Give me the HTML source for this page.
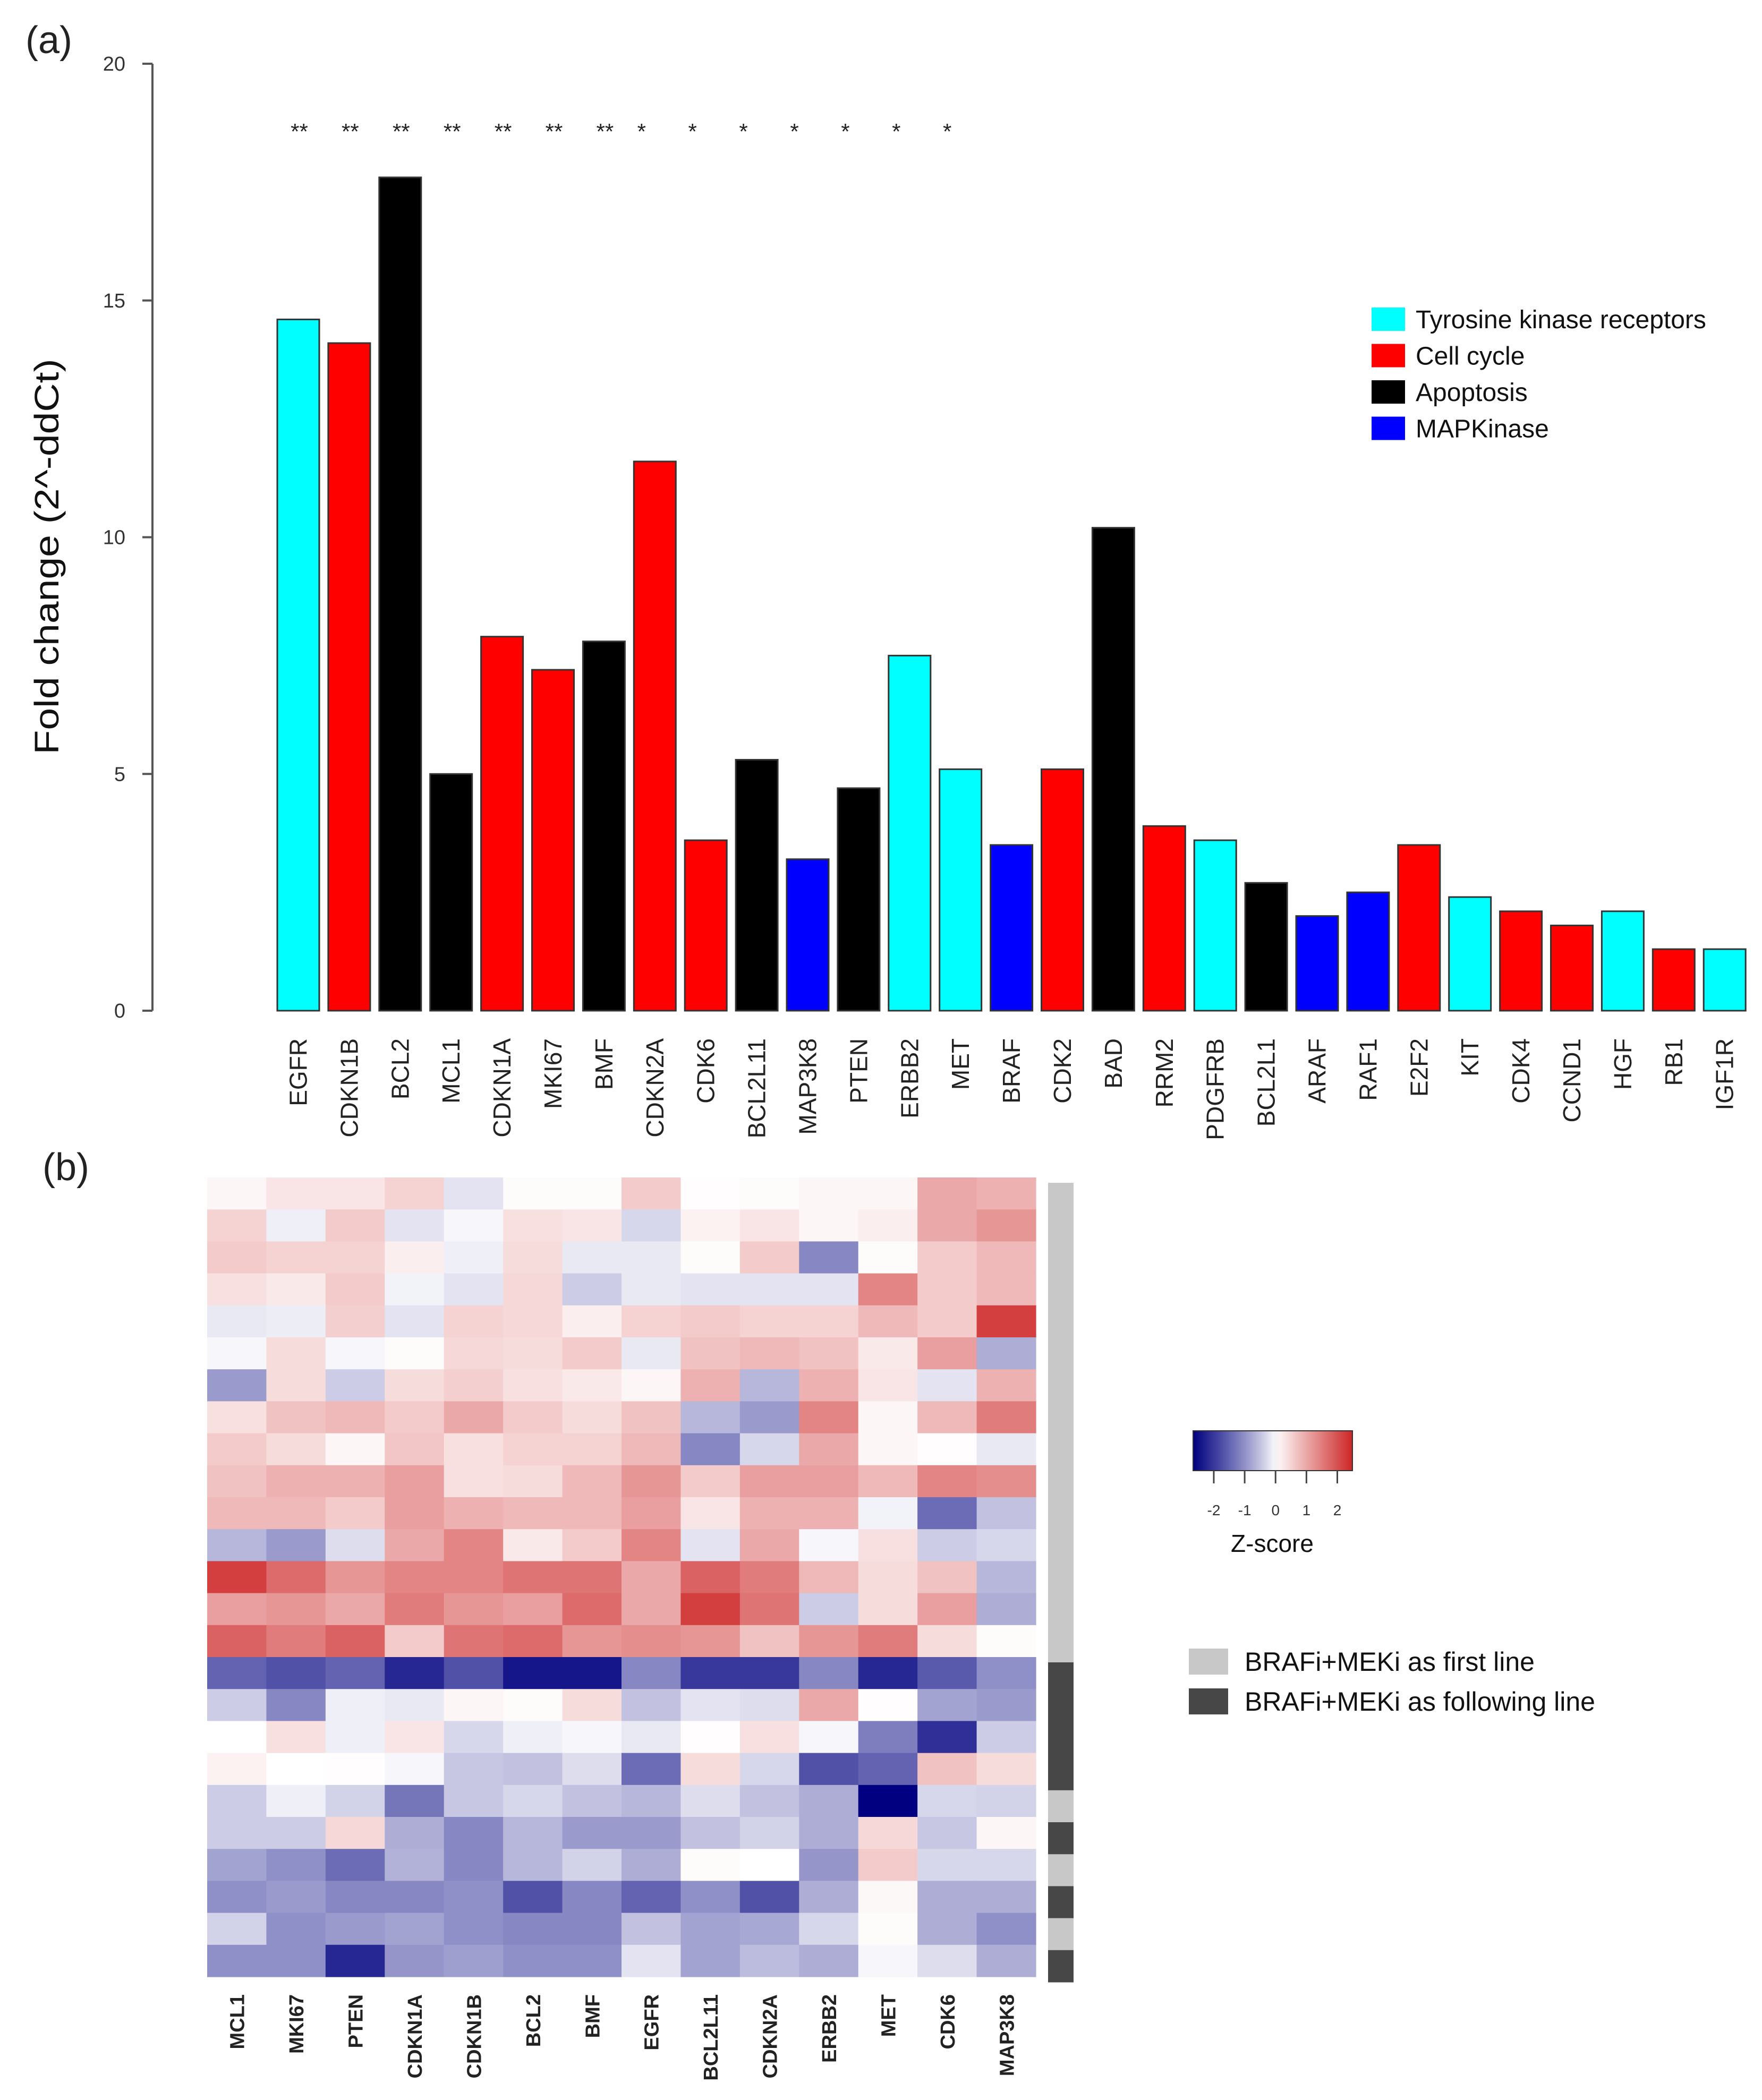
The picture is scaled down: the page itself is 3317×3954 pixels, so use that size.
<!DOCTYPE html>
<html><head><meta charset="utf-8"><style>
html,body{margin:0;padding:0;background:#fff;}
svg{display:block;}
text{font-family:"Liberation Sans",sans-serif;}
</style></head><body>
<svg id="fig" width="3317" height="3954" viewBox="0 0 3317 3954" xmlns="http://www.w3.org/2000/svg">
<rect x="0" y="0" width="3317" height="3954" fill="#fff"/>
<g id="panelA"></g>
<g id="panelB"></g>
</svg>
<script>
// ---------- Panel (a) data ----------
const genes = ["EGFR","CDKN1B","BCL2","MCL1","CDKN1A","MKI67","BMF","CDKN2A","CDK6","BCL2L11","MAP3K8","PTEN","ERBB2","MET","BRAF","CDK2","BAD","RRM2","PDGFRB","BCL2L1","ARAF","RAF1","E2F2","KIT","CDK4","CCND1","HGF","RB1","IGF1R"];
const foldChange = [14.6,14.1,17.6,5.0,7.9,7.2,7.8,11.6,3.6,5.3,3.2,4.7,7.5,5.1,3.5,5.1,10.2,3.9,3.6,2.7,2.0,2.5,3.5,2.4,2.1,1.8,2.1,1.3,1.3];
const category = ["t","c","a","a","c","c","a","c","c","a","m","a","t","t","m","c","a","c","t","a","m","m","c","t","c","c","t","c","t"];
const stars = ["**","**","**","**","**","**","**","*","*","*","*","*","*","*"];
const yTicks = [0,5,10,15,20];
const catNames = ["Tyrosine kinase receptors","Cell cycle","Apoptosis","MAPKinase"];
const catKeys = ["t","c","a","m"];
const catColors = {t:"#00ffff",c:"#ff0000",a:"#000000",m:"#0000ff"};

// ---------- Panel (b) data ----------
const hmGenes = ["MCL1","MKI67","PTEN","CDKN1A","CDKN1B","BCL2","BMF","EGFR","BCL2L11","CDKN2A","ERBB2","MET","CDK6","MAP3K8"];
const hmRows = [
[0.1,0.3,0.3,0.5,-0.2,0.05,0.05,0.6,0.02,0.05,0.1,0.1,1.0,0.9],
[0.5,-0.1,0.6,-0.2,-0.05,0.35,0.3,-0.3,0.15,0.3,0.1,0.2,1.0,1.2],
[0.6,0.5,0.5,0.2,-0.1,0.4,-0.15,-0.15,0.05,0.6,-1.1,0.05,0.6,0.8],
[0.35,0.25,0.6,-0.08,-0.2,0.45,-0.4,-0.15,-0.2,-0.2,-0.2,1.4,0.6,0.8],
[-0.15,-0.12,0.55,-0.2,0.5,0.45,0.2,0.5,0.6,0.5,0.5,0.8,0.6,2.2],
[-0.05,0.4,-0.05,0.05,0.45,0.4,0.6,-0.15,0.7,0.8,0.7,0.25,1.1,-0.7],
[-0.9,0.4,-0.4,0.4,0.55,0.35,0.25,0.1,0.9,-0.6,0.9,0.3,-0.2,0.9],
[0.35,0.7,0.8,0.6,1.0,0.6,0.4,0.7,-0.6,-0.9,1.4,0.1,0.8,1.5],
[0.6,0.4,0.1,0.65,0.35,0.5,0.5,0.8,-1.1,-0.3,1.0,0.1,0.02,-0.15],
[0.7,0.9,0.9,1.1,0.35,0.4,0.8,1.2,0.6,1.1,1.1,0.8,1.4,1.3],
[0.8,0.8,0.6,1.1,0.9,0.8,0.8,1.1,0.3,0.9,0.9,-0.08,-1.4,-0.5],
[-0.6,-0.9,-0.25,1.0,1.4,0.25,0.6,1.4,-0.2,1.0,-0.05,0.35,-0.4,-0.3],
[2.2,1.7,1.2,1.4,1.4,1.6,1.6,1.0,1.8,1.5,0.8,0.4,0.7,-0.6],
[1.1,1.2,1.0,1.5,1.2,1.1,1.7,1.0,2.2,1.6,-0.4,0.4,1.1,-0.7],
[1.8,1.5,1.8,0.6,1.6,1.7,1.2,1.3,1.2,0.7,1.2,1.5,0.4,0.05],
[-1.5,-1.7,-1.5,-2.2,-1.7,-2.4,-2.4,-1.1,-2.0,-2.0,-1.1,-2.2,-1.6,-1.0],
[-0.4,-1.1,-0.1,-0.15,0.1,0.05,0.4,-0.5,-0.2,-0.25,1.0,0.02,-0.8,-0.9],
[0.0,0.35,-0.1,0.3,-0.3,-0.1,-0.05,-0.15,0.02,0.35,-0.05,-1.2,-2.1,-0.4],
[0.15,0.0,0.02,-0.05,-0.45,-0.5,-0.25,-1.4,0.4,-0.3,-1.7,-1.5,0.7,0.4],
[-0.4,-0.1,-0.35,-1.3,-0.45,-0.3,-0.5,-0.6,-0.25,-0.5,-0.7,-2.7,-0.3,-0.35],
[-0.4,-0.4,0.45,-0.7,-1.1,-0.6,-0.9,-0.9,-0.5,-0.35,-0.7,0.45,-0.45,0.1],
[-0.8,-1.0,-1.4,-0.65,-1.1,-0.6,-0.35,-0.7,0.05,0.0,-0.95,0.6,-0.3,-0.3],
[-1.0,-0.9,-1.1,-1.1,-1.0,-1.7,-1.1,-1.5,-1.0,-1.7,-0.7,0.08,-0.7,-0.7],
[-0.35,-1.0,-0.9,-0.8,-1.0,-1.1,-1.1,-0.5,-0.8,-0.75,-0.3,0.05,-0.7,-1.0],
[-1.0,-1.0,-2.2,-0.95,-0.85,-1.0,-1.0,-0.2,-0.8,-0.55,-0.7,-0.05,-0.25,-0.7]
];
const rowGroup = [1,1,1,1,1,1,1,1,1,1,1,1,1,1,1,2,2,2,2,1,2,1,2,1,2];
const zTicks = [-2,-1,0,1,2];
const groupNames = ["BRAFi+MEKi as first line","BRAFi+MEKi as following line"];
const groupColors = {1:"#c8c8c8",2:"#474747"};

const NS="http://www.w3.org/2000/svg";
function mk(tag, attrs, parent, txt){
  const e=document.createElementNS(NS,tag);
  for(const k in attrs) e.setAttribute(k, attrs[k]);
  if(txt!==undefined) e.textContent=txt;
  parent.appendChild(e); return e;
}

// ---------- Panel (a) ----------
const A=document.getElementById('panelA');
const y0px=1903, y20px=120;
function yScale(v){return y0px-(v/20)*(y0px-y20px);}
const barStart=522, pitch=95.9, barW=79;
function xLeft(i){return barStart+i*pitch;}
function xCenter(i){return xLeft(i)+barW/2;}

let t=mk('text',{x:48,y:100,'font-size':72,fill:'#222'},A,'(a)');



let ax=mk('line',{x1:287,y1:y20px,x2:287,y2:y0px,stroke:'#555','stroke-width':4},A);


yTicks.forEach(v=>{
  const y=yScale(v);
  const tk=mk('line',{x1:268,y1:y,x2:287,y2:y,stroke:'#555','stroke-width':4},A);
  
  
  const tl=mk('text',{x:236,y:y+13,'font-size':38,'text-anchor':'end',fill:'#333'},A,String(v));
  
  
});
let yt=mk('text',{x:0,y:0,'font-size':64,'text-anchor':'middle',fill:'#111',transform:'translate(110,1048) rotate(-90)',textLength:745,lengthAdjust:'spacingAndGlyphs'},A,'Fold change (2^-ddCt)');



genes.forEach((g,i)=>{
  const v=foldChange[i];
  const b=mk('rect',{x:xLeft(i),y:yScale(v),width:barW,height:y0px-yScale(v),fill:catColors[category[i]],stroke:'#333','stroke-width':3},A);
  
  
  const lb=mk('text',{x:0,y:0,'font-size':46,'text-anchor':'end',fill:'#222',transform:`translate(${xCenter(i)+16},1955) rotate(-90)`},A,g);
  
  
});
stars.forEach((s,i)=>{
  const off = s.length===1 ? -25 : 2;
  const st=mk('text',{x:xCenter(i)+off,y:262,'font-size':42,'text-anchor':'middle',fill:'#222'},A,s);
  
  
});
catKeys.forEach((k,i)=>{
  const cy=601+i*68.5;
  const sw=mk('rect',{x:2582,y:cy-22,width:63,height:44,fill:catColors[k]},A);
  
  
  const lt=mk('text',{x:2665,y:cy+17,'font-size':48,fill:'#111'},A,catNames[i]);
  
  
});

// ---------- Panel (b) ----------
const B=document.getElementById('panelB');
let tb=mk('text',{x:80,y:2222,'font-size':72,fill:'#222'},B,'(b)');



const hmX0=390, hmX1=1950, hmY0=2217, rowH=60.2;
const colW=(hmX1-hmX0)/hmGenes.length;
const zMin=-2.67, zMax=2.49;
function zColor(v){
  let r,g,b;
  if(v<0){const t=Math.min(1,Math.pow(-v/(-zMin),0.85)); r=255*(1-t); g=255*(1-t); b=255*(1-t)+128*t;}
  else{const t=Math.min(1,v/zMax); r=255*(1-t)+205*t; g=255*(1-t)+38*t; b=255*(1-t)+38*t;}
  return `rgb(${Math.round(r)},${Math.round(g)},${Math.round(b)})`;
}
hmRows.forEach((row,ri)=>{
  row.forEach((v,ci)=>{
    const c=mk('rect',{x:hmX0+ci*colW,y:hmY0+ri*rowH,width:colW+0.6,height:rowH+0.6,fill:zColor(v)},B);
    
    
  });
  const a=mk('rect',{x:1973,y:hmY0+10+ri*rowH,width:48,height:rowH+0.5,fill:groupColors[rowGroup[ri]]},B);
  
  
});
hmGenes.forEach((g,ci)=>{
  const lb=mk('text',{x:0,y:0,'font-size':38,'font-weight':'bold','text-anchor':'end',fill:'#222',transform:`translate(${hmX0+(ci+0.5)*colW+14},3755) rotate(-90)`},B,g);
  
  
});

// colour key
const defs=mk('defs',{},B);
const grad=mk('linearGradient',{id:'zgrad',x1:'0',x2:'1',y1:'0',y2:'0'},defs);
for(let k=0;k<=20;k++){
  const v=zMin+(zMax-zMin)*k/20;
  mk('stop',{offset:(k/20).toFixed(3),'stop-color':zColor(v)},grad);
}
const kx0=2246, kx1=2546;
function zx(v){return kx0+(v-zMin)/(zMax-zMin)*(kx1-kx0);}
let cb=mk('rect',{x:kx0,y:2694,width:kx1-kx0,height:75,fill:'url(#zgrad)',stroke:'#333','stroke-width':2},B);


zTicks.forEach(v=>{
  const tk=mk('line',{x1:zx(v),y1:2769,x2:zx(v),y2:2793,stroke:'#444','stroke-width':3},B);
  
  
  const tl=mk('text',{x:zx(v),y:2853,'font-size':28,'text-anchor':'middle',fill:'#333'},B,String(v));
  
  
});
let zt=mk('text',{x:2395,y:2922,'font-size':46,'text-anchor':'middle',fill:'#111'},B,'Z-score');



groupNames.forEach((n,i)=>{
  const y=3104+i*75;
  const sw=mk('rect',{x:2238,y:y,width:74,height:49,fill:groupColors[i+1]},B);
  
  
  const lt=mk('text',{x:2343,y:y+42,'font-size':50,fill:'#111'},B,n);
  
  
});
</script>
</body></html>
